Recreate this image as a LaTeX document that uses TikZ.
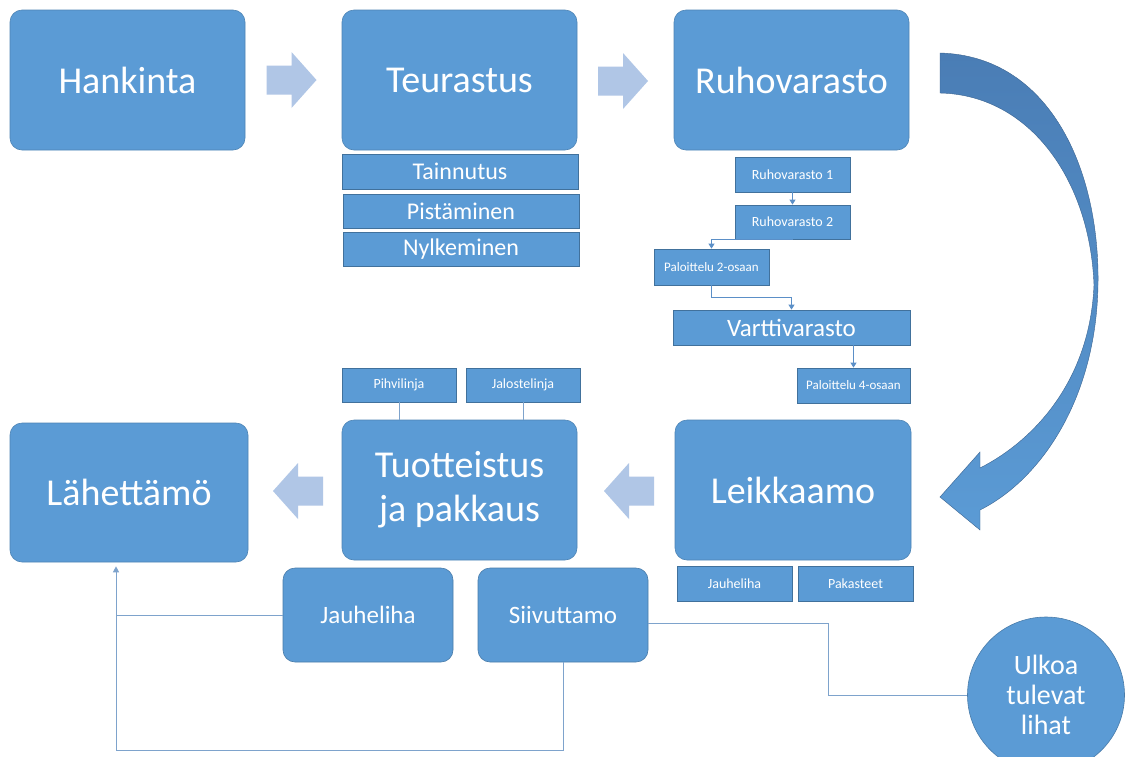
\documentclass[tikz,border=0pt]{standalone}
\usepackage{fontspec}
\setmainfont{Carlito}
\usetikzlibrary{arrows.meta,calc,shapes.geometric}
\definecolor{boxblue}{HTML}{5B9BD5}
\definecolor{edgeblue}{HTML}{41719C}
\definecolor{lightarr}{HTML}{B0C6E6}
\definecolor{linecol}{HTML}{7EA3CC}
\definecolor{chaincol}{HTML}{5B8FC7}
\definecolor{darkarr}{HTML}{4A7DB5}
\begin{document}
\begin{tikzpicture}[x=1pt,y=-1pt,
  big/.style={rounded corners=12pt, fill=boxblue, draw=boxblue!85!black, line width=0.6pt, text=white, inner sep=0pt, align=center, font=\fontsize{38}{44}\selectfont},
  mid/.style={rounded corners=12pt, fill=boxblue, draw=boxblue!80!black, line width=0.6pt, text=white, inner sep=0pt, font=\fontsize{25}{30}\selectfont},
  subbox/.style={fill=boxblue, draw=edgeblue, line width=0.8pt, text=white, inner sep=0pt},
  lbl/.style={font=\fontsize{24}{28}\selectfont},
  smalllbl/.style={font=\fontsize{14}{16}\selectfont},
  chain/.style={draw=chaincol, line width=0.9pt, -{Triangle[width=6pt,length=5pt]}},
  conn/.style={draw=linecol, line width=1pt},
  chev/.pic={\fill[lightarr] (-25,-14.5) -- (0,-14.5) -- (0,-28) -- (25,0) -- (0,28) -- (0,14.5) -- (-25,14.5) -- cycle;}
]
\useasboundingbox[fill=white] (0,0) rectangle (1128,756);

% main boxes
\node[big, minimum width=235pt, minimum height=140pt] (hank) at (127.5,80) {Hankinta};
\node[big, minimum width=235pt, minimum height=140pt] (teur) at (459.5,80) {Teurastus};
\node[big, minimum width=235pt, minimum height=140pt] (ruho) at (791.5,80) {Ruhovarasto};
\node[big, minimum width=235pt, minimum height=140pt] (tuot) at (459.5,490) {Tuotteistus\\ja pakkaus};
\node[big, minimum width=238pt, minimum height=139pt] (lah) at (129,492.5) {Lähettämö};
\node[big, minimum width=236pt, minimum height=140pt] (leik) at (793,490) {Leikkaamo};

% flow chevrons
\pic at (291.5,80) {chev};
\pic at (623,81) {chev};
\pic[rotate=180] at (298,491) {chev};
\pic[rotate=180] at (629,491) {chev};

% Teurastus sub steps
\node[subbox, lbl, minimum width=236pt, minimum height=35pt] (tain) at (460,171.5) {Tainnutus};
\node[subbox, lbl, minimum width=236pt, minimum height=34pt] (pist) at (461,211) {Pistäminen};
\node[subbox, lbl, minimum width=236pt, minimum height=34pt] (nylk) at (461,249) {Nylkeminen};

% Ruhovarasto chain
\node[subbox, smalllbl, minimum width=115pt, minimum height=35pt] (r1) at (792.5,174.5) {Ruhovarasto 1};
\node[subbox, smalllbl, minimum width=115pt, minimum height=34pt] (r2) at (792.5,222) {Ruhovarasto 2};
\node[subbox, font=\fontsize{13}{15}\selectfont, minimum width=115pt, minimum height=36pt] (p2) at (711.5,267) {Paloittelu 2-osaan};
\node[subbox, font=\fontsize{25}{30}\selectfont, minimum width=237pt, minimum height=35pt] (vart) at (791.5,327.5) {Varttivarasto};
\node[subbox, font=\fontsize{13}{15}\selectfont, minimum width=113pt, minimum height=35pt] (p4) at (853.5,385.5) {Paloittelu 4-osaan};

\draw[chain] (r1.south) -- (r2.north);
\draw[chain] (r2.south) -| (p2.north);
\draw[chain] (p2.south) -- ++(0,12) -| (vart.north);
\draw[chain] (p4.north |- vart.south) -- (p4.north);

% Tuotteistus lines
\node[subbox, smalllbl, minimum width=114pt, minimum height=34pt] (pihv) at (399,385) {Pihvilinja};
\node[subbox, smalllbl, minimum width=114pt, minimum height=34pt] (jalo) at (523,385) {Jalostelinja};
\draw[linecol, line width=0.8pt] (pihv.south) -- (pihv.south |- tuot.north);
\draw[linecol, line width=0.8pt] (jalo.south) -- (jalo.south |- tuot.north);

% Leikkaamo products
\node[subbox, smalllbl, minimum width=115pt, minimum height=35pt] (ljau) at (734.5,583.5) {Jauheliha};
\node[subbox, smalllbl, minimum width=115pt, minimum height=35pt] (paka) at (855.5,583.5) {Pakasteet};

% bottom boxes
\node[mid, minimum width=170pt, minimum height=94pt] (jau) at (368,615) {Jauheliha};
\node[mid, minimum width=170pt, minimum height=94pt] (siiv) at (563,615) {Siivuttamo};
\node[ellipse, fill=boxblue, draw=boxblue!80!black, line width=0.6pt, text=white, inner sep=0pt, minimum width=157pt, minimum height=156pt, align=center, font=\fontsize{28}{30}\selectfont] (ulk) at (1046,695) {Ulkoa\\tulevat\\lihat};

\coordinate (corner) at (116,750);
\draw[conn, -{Triangle[width=6pt,length=6pt]}] (siiv.south) |- (corner) -- ($(lah.south -| corner)+(0,4)$);
\draw[conn] (jau.west) -- (jau.west -| corner);
\draw[conn] ($(siiv.east)+(0,8)$) -- ++(180,0) |- (ulk.west);

% big curved arrow
\shade[top color=darkarr, bottom color=boxblue, draw=darkarr!80!black, line width=0.4pt]
  (940,53) .. controls (1050,56) and (1100,170) .. (1098,285)
  .. controls (1096,400) and (1040,480) .. (980,510)
  -- (980,530) -- (940,497) -- (980,452) -- (980,468)
  .. controls (1035,440) and (1090,380) .. (1094,285)
  .. controls (1090,180) and (1030,95) .. (940,93) -- cycle;
\end{tikzpicture}
\end{document}
